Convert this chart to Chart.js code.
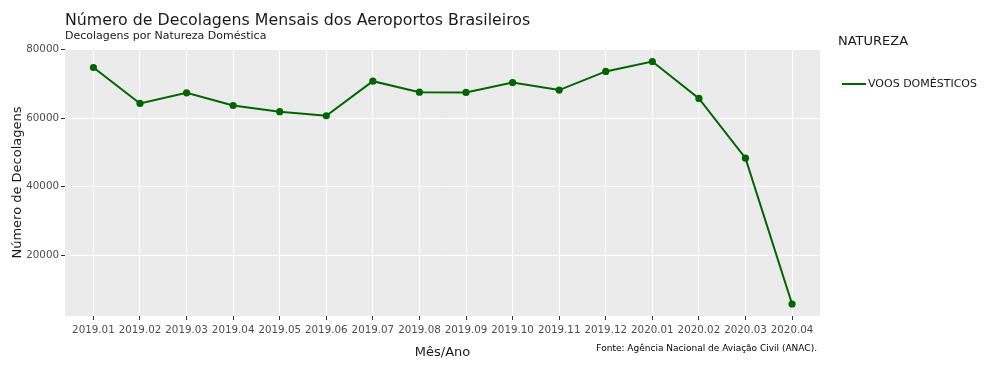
<!DOCTYPE html>
<html>
<head>
<meta charset="utf-8">
<script src="https://cdn.jsdelivr.net/npm/chart.js@4/dist/chart.umd.min.js"></script>
<style>
  body { margin: 0; background: #fff; }
  #wrap { width: 991px; height: 367px; position: relative; }
</style>
</head>
<body>
<div id="wrap"><canvas id="decolagensChart"></canvas></div>
<script>
// Dados
const meses = ['2019.01', '2019.02', '2019.03', '2019.04', '2019.05', '2019.06', '2019.07', '2019.08',
               '2019.09', '2019.10', '2019.11', '2019.12', '2020.01', '2020.02', '2020.03', '2020.04'];
const voosDomesticos = [74800, 64300, 67400, 63700, 61900, 60700, 70800, 67600,
                        67500, 70400, 68200, 73650, 76550, 65750, 48300, 5700];
const yTicks = [20000, 40000, 60000, 80000];
const serieNome = 'VOOS DOMÉSTICOS';

const FONT = '"DejaVu Sans", "Open Sans", sans-serif';
const VERDE = '#006400';

// fundo cinza + textos
const extras = {
    id: 'extras',
    beforeDraw(chart) {
        const { ctx, chartArea: a } = chart;
        ctx.save();
        ctx.fillStyle = '#ebebeb';
        ctx.fillRect(a.left, a.top, a.right - a.left, a.bottom - a.top);
        ctx.restore();
    },
    afterDraw(chart) {
        const { ctx, chartArea: a } = chart;
        ctx.save();
        ctx.fillStyle = '#1a1a1a';
        ctx.textBaseline = 'alphabetic';
        ctx.textAlign = 'left';
        ctx.font = '15.8px ' + FONT;
        ctx.fillText('Número de Decolagens Mensais dos Aeroportos Brasileiros', 65, 25, 466);
        ctx.font = '11px ' + FONT;
        ctx.fillText('Decolagens por Natureza Doméstica', 65, 39, 202);

        // titulos dos eixos
        ctx.textBaseline = 'middle';
        ctx.textAlign = 'center';
        ctx.font = '13px ' + FONT;
        ctx.fillText('Mês/Ano', (a.left + a.right) / 2, 353);
        ctx.save();
        ctx.translate(18, (a.top + a.bottom) / 2);
        ctx.rotate(-Math.PI / 2);
        ctx.fillText('Número de Decolagens', 0, 0);
        ctx.restore();

        // fonte
        ctx.textAlign = 'right';
        ctx.fillStyle = '#000';
        ctx.font = '9px ' + FONT;
        ctx.fillText('Fonte: Agência Nacional de Aviação Civil (ANAC).', 817, 349, 222);

        // legenda
        ctx.textAlign = 'left';
        ctx.fillStyle = '#1a1a1a';
        ctx.font = '13px ' + FONT;
        ctx.fillText('NATUREZA', 838, 41.5);
        ctx.strokeStyle = VERDE;
        ctx.lineWidth = 2;
        ctx.beginPath();
        ctx.moveTo(842, 84);
        ctx.lineTo(866, 84);
        ctx.stroke();
        ctx.font = '11px ' + FONT;
        ctx.fillText(serieNome, 868, 84.5, 110);
        ctx.restore();
    }
};

const ctx = document.getElementById('decolagensChart').getContext('2d');
new Chart(ctx, {
    type: 'line',
    data: {
        datasets: [{
            label: serieNome,
            data: voosDomesticos.map((v, i) => ({ x: i, y: v })),
            borderColor: VERDE,
            backgroundColor: VERDE,
            borderWidth: 2,
            pointRadius: 3.6,
            pointBorderWidth: 0,
            pointBackgroundColor: VERDE,
            tension: 0
        }]
    },
    options: {
        responsive: true,
        maintainAspectRatio: false,
        animation: false,
        layout: { padding: { top: 49, right: 171, left: 0, bottom: 0 } },
        plugins: { legend: { display: false }, tooltip: { enabled: false } },
        scales: {
            x: {
                type: 'linear',
                min: -0.61,
                max: 15.6,
                afterBuildTicks: s => { s.ticks = meses.map((_, i) => ({ value: i })); },
                afterFit: s => { s.height = 51; },
                ticks: {
                    callback: v => meses[v],
                    autoSkip: false,
                    maxRotation: 0,
                    color: '#4d4d4d',
                    font: { family: FONT, size: 10.3 },
                    padding: 4
                },
                grid: { color: '#ffffff', lineWidth: 1, tickColor: '#333333', tickLength: 4 },
                border: { display: false }
            },
            y: {
                min: 2200,
                max: 80200,
                afterBuildTicks: s => { s.ticks = yTicks.map(v => ({ value: v })); },
                afterFit: s => { s.width = 65; },
                ticks: {
                    callback: v => String(v),
                    color: '#4d4d4d',
                    font: { family: FONT, size: 10.3 },
                    padding: 2
                },
                grid: { color: '#ffffff', lineWidth: 1, tickColor: '#333333', tickLength: 4 },
                border: { display: false }
            }
        }
    },
    plugins: [extras]
});
</script>
</body>
</html>
